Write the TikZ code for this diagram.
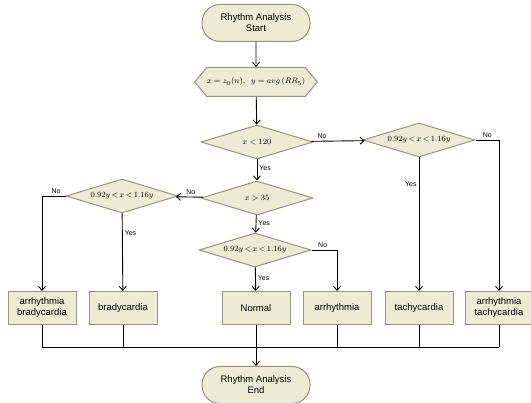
\documentclass[tikz,border=0pt]{standalone}
\usepackage{amsmath}
\usepackage{fontspec}
\setmainfont{Liberation Sans}
\usepackage{tikz}
\usetikzlibrary{shapes.geometric,shapes.symbols,arrows.meta}
\definecolor{beige}{RGB}{238,235,212}
\definecolor{rim}{RGB}{150,148,130}
\tikzset{terminal/.style={draw=rim,fill=beige,line width=1pt,rounded corners=18pt,minimum width=108pt,minimum height=37pt,align=center,font=\fontsize{9.5}{11}\selectfont},
decision/.style={diamond,aspect=3.3,draw=rim,fill=beige,line width=1pt,inner sep=0pt,minimum width=112pt,minimum height=34pt,font=\fontsize{8}{10}\selectfont},
io/.style={signal,signal to=west and east,signal pointer angle=100,draw=rim,fill=beige,line width=1pt,inner sep=0pt,minimum width=116pt,minimum height=29pt,font=\fontsize{8}{10}\selectfont},
result/.style={draw=rim,fill=beige,line width=1pt,minimum width=68pt,minimum height=33pt,inner sep=1pt,align=center,font=\fontsize{9.5}{11}\selectfont},
answer/.style={font=\fontsize{7}{8}\selectfont,inner sep=2pt}}
\newcommand{\band}{$0.92y\,{<}\,x\,{<}\,1.16y$}

\begin{document}
\begin{tikzpicture}[x=1pt,y=-1pt,>={Straight Barb[length=4pt,width=7pt]},line width=0.9pt]
\useasboundingbox (0,0) rectangle (531,403);

\node[terminal] (start) at (256,23) {Rhythm Analysis\\Start};
\node[io] (in) at (256,82) {$x=z_0(n),\ \ y=avg\left(RR_5\right)$};
\node[decision] (d1) at (257,142) {$x<120$};
\node[decision] (d2) at (257,198) {$x>35$};
\node[decision] (d3) at (122,196) {\band};
\node[decision] (d4) at (419,140) {\band};
\node[decision] (d5) at (255,250) {\band};

\node[result] (b1) at (42,308) {arrhythmia\\bradycardia};
\node[result] (b2) at (123,308) {bradycardia};
\node[result] (b3) at (256,308) {Normal};
\node[result] (b4) at (337,308) {arrhythmia};
\node[result] (b5) at (419,308) {tachycardia};
\node[result] (b6) at (499,308) {arrhythmia\\tachycardia};
\node[terminal] (end) at (256,385) {Rhythm Analysis\\End};
\coordinate (bus) at (256,347);

\draw[->] (start) -- (in);
\draw[->] (in) -- (d1);
\draw[->] (d1) -- node[answer,right,pos=0.4] {Yes} (d2);
\draw[->] (d1) -- node[answer,above,pos=0.2] {No} (d4);
\draw[->] (d2) -- node[answer,right,pos=0.45] {Yes} (d5);
\draw[->] (d2) -- node[answer,above,pos=0.45] {No} (d3);
\draw[->] (d3.west) -| node[answer,above,pos=0.2] {No} (b1);
\draw[->] (d3) -- node[answer,right,pos=0.25] {Yes} (b2);
\draw[->] (d5) -- node[answer,right,pos=0.45] {Yes} (b3);
\draw[->] (d5.east) -| node[answer,above,pos=0.22] {No} (b4);
\draw[->] (d4) -- node[answer,left,pos=0.2] {Yes} (b5);
\draw[->] (d4.east) -| node[answer,above,pos=0.25] {No} (b6);

% outcomes join the bus
\foreach \b in {b1,b2,b4,b5,b6}
  \draw (\b.south) -- (\b.south |- bus);
\draw (b1.south |- bus) -- (b6.south |- bus);
\draw[->] (b3) -- (end);
\end{tikzpicture}
\end{document}
